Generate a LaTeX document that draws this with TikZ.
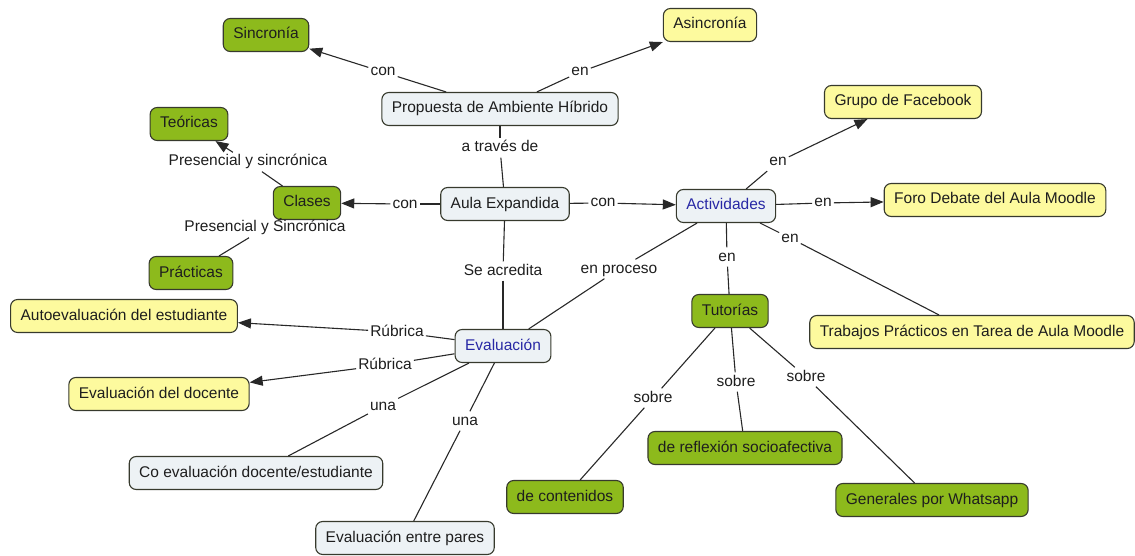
\documentclass[tikz,border=0pt]{standalone}
\usepackage{fontspec}
\setmainfont{Liberation Sans}
\usepackage{tikz}
\usetikzlibrary{arrows.meta}

\definecolor{cmgreen}{RGB}{141,186,28}
\definecolor{cmyellow}{RGB}{253,250,158}
\definecolor{cmgrey}{RGB}{237,242,245}
\definecolor{cmborder}{RGB}{55,58,45}
\definecolor{cmline}{RGB}{40,40,40}
\definecolor{cmtext}{RGB}{30,30,30}
\definecolor{cmblue}{RGB}{40,40,165}
\newcommand{\mapfont}{\fontsize{15.5}{18}\selectfont}

\begin{document}
\begin{tikzpicture}[x=1pt, y=-1pt,
    box/.style={draw=cmborder, line width=1.1pt, rounded corners=7pt, minimum height=33pt, inner xsep=10pt, text height=11.5pt, text depth=3.5pt, font=\mapfont, text=cmtext},
    greenbox/.style={box, fill=cmgreen},
    yellowbox/.style={box, fill=cmyellow},
    greybox/.style={box, fill=cmgrey},
    link/.style={inner sep=2pt, text height=11.5pt, text depth=3.5pt, font=\mapfont, text=cmtext},
    line/.style={draw=cmline, line width=1.1pt},
    arrow/.style={line, -{Triangle[length=13pt, width=10pt]}}
]
\useasboundingbox (0,0) rectangle (1135,556);

\node[greybox] (prop) at (500,109) {Propuesta de Ambiente Híbrido};
\node[greenbox] (sinc) at (266,35) {Sincronía};
\node[yellowbox] (asinc) at (710,25) {Asincronía};
\node[greybox] (aula) at (505,204) {Aula Expandida};
\node[greenbox] (clases) at (307,203) {Clases};
\node[greenbox] (teor) at (189,124) {Teóricas};
\node[greenbox] (pract) at (191,273) {Prácticas};
\node[greybox, text=cmblue] (activ) at (726,206) {Actividades};
\node[yellowbox] (face) at (903,102) {Grupo de Facebook};
\node[yellowbox] (foro) at (995,200) {Foro Debate del Aula Moodle};
\node[yellowbox] (trab) at (972,332) {Trabajos Prácticos en Tarea de Aula Moodle};
\node[greenbox] (tuto) at (730,311) {Tutorías};
\node[greenbox] (cont) at (565,497) {de contenidos};
\node[greenbox] (refl) at (745,448) {de reflexión socioafectiva};
\node[greenbox] (whats) at (932,500) {Generales por Whatsapp};
\node[greybox, text=cmblue] (eval) at (503,346) {Evaluación};
\node[yellowbox] (auto) at (124,316) {Autoevaluación del estudiante};
\node[yellowbox] (doce) at (159,394) {Evaluación del docente};
\node[greybox] (coev) at (256,473) {Co evaluación docente/estudiante};
\node[greybox] (pares) at (405,538) {Evaluación entre pares};

\node[link] (l-sinc) at (383,72) {con};
\node[link] (l-asinc) at (580,72) {en};
\node[link] (l-aula) at (500,148) {a través de};
\node[link] (l-clases) at (405,204) {con};
\node[link] (l-teor) at (248,162) {Presencial y sincrónica};
\node[link] (l-pract) at (265,228) {Presencial y Sincrónica};
\node[link] (l-activ) at (603,203) {con};
\node[link] (l-face) at (778,162) {en};
\node[link] (l-foro) at (823,203) {en};
\node[link] (l-trab) at (790,238) {en};
\node[link] (l-tuto) at (727,257) {en};
\node[link] (l-proc) at (619,269) {en proceso};
\node[link] (l-acred) at (503,271) {Se acredita};
\node[link] (l-cont) at (653,398) {sobre};
\node[link] (l-refl) at (736,382) {sobre};
\node[link] (l-whats) at (806,377) {sobre};
\node[link] (l-auto) at (397,332) {Rúbrica};
\node[link] (l-doce) at (385,365) {Rúbrica};
\node[link] (l-coev) at (383,406) {una};
\node[link] (l-pares) at (465,421) {una};

\draw[line] (prop) -- (l-sinc);
\draw[arrow] (l-sinc) -- (sinc);
\draw[line] (prop) -- (l-asinc);
\draw[arrow] (l-asinc) -- (asinc);
\draw[line] (prop) -- (l-aula);
\draw[line] (l-aula) -- (aula);

\draw[line] (aula) -- (l-clases);
\draw[arrow] (l-clases) -- (clases);
\draw[line] (clases) -- (l-teor);
\draw[arrow] (l-teor) -- (teor);
\draw[line] (clases) -- (l-pract);
\draw[line] (l-pract) -- (pract);

\draw[line] (aula) -- (l-activ);
\draw[arrow] (l-activ) -- (activ);
\draw[line] (activ) -- (l-face);
\draw[arrow] (l-face) -- (face);
\draw[line] (activ) -- (l-foro);
\draw[arrow] (l-foro) -- (foro);
\draw[line] (activ) -- (l-trab);
\draw[line] (l-trab) -- (trab);
\draw[line] (activ) -- (l-tuto);
\draw[line] (l-tuto) -- (tuto);
\draw[line] (activ) -- (l-proc);
\draw[line] (l-proc) -- (eval);

\draw[line] (tuto) -- (l-cont);
\draw[line] (l-cont) -- (cont);
\draw[line] (tuto) -- (l-refl);
\draw[line] (l-refl) -- (refl);
\draw[line] (tuto) -- (l-whats);
\draw[line] (l-whats) -- (whats);

\draw[line] (aula) -- (l-acred);
\draw[line] (l-acred) -- (eval);
\draw[line] (eval) -- (l-auto);
\draw[arrow] (l-auto) -- (auto);
\draw[line] (eval) -- (l-doce);
\draw[arrow] (l-doce) -- (doce);
\draw[line] (eval) -- (l-coev);
\draw[line] (l-coev) -- (coev);
\draw[line] (eval) -- (l-pares);
\draw[line] (l-pares) -- (pares);

\end{tikzpicture}
\end{document}
